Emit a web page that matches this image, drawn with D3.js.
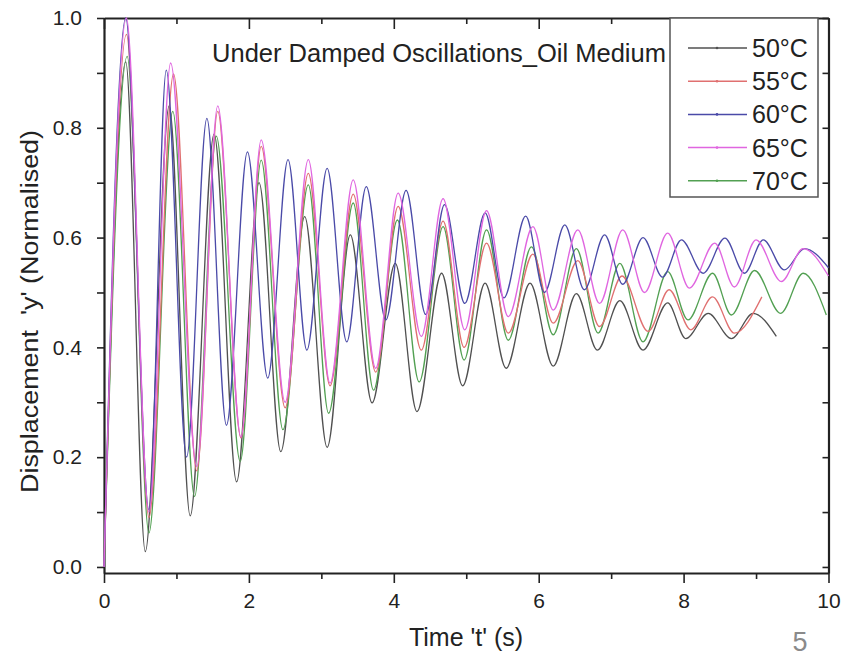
<!DOCTYPE html>
<html lang="en">
<head>
<meta charset="UTF-8">
<title>Under Damped Oscillations - Oil Medium</title>
<style>
    body { margin: 0; background: #fff; }
    text { font-family: "Liberation Sans", Arial, sans-serif; fill: #222; }
    .axis path, .axis line { stroke: #222; }
    .series { fill: none; stroke-width: 1.3px; stroke-linejoin: round; }
</style>
<script src="https://d3js.org/d3.v7.min.js"></script>
</head>
<body>
<svg></svg>
<script>
    // peaks / troughs, [time (s), displacement]
    const series50 = [[0,0],[0.3,0.92],[0.57,0.028],[0.9,0.84],[1.19,0.093],[1.52,0.789],[1.83,0.155],[2.14,0.70],[2.44,0.21],[2.77,0.638],[3.08,0.218],[3.4,0.605],[3.7,0.299],[4.02,0.553],[4.32,0.283],[4.66,0.535],[4.95,0.33],[5.26,0.517],[5.55,0.362],[5.88,0.517],[6.2,0.366],[6.52,0.498],[6.81,0.395],[7.12,0.485],[7.44,0.395],[7.78,0.481],[8.03,0.416],[8.34,0.462],[8.66,0.416],[8.96,0.462],[9.28,0.42]];
    const series55 = [[0,0],[0.31,0.97],[0.62,0.09],[0.96,0.898],[1.28,0.175],[1.57,0.83],[1.89,0.235],[2.17,0.766],[2.5,0.29],[2.82,0.717],[3.12,0.33],[3.44,0.679],[3.75,0.355],[4.06,0.657],[4.38,0.395],[4.68,0.63],[4.97,0.40],[5.28,0.59],[5.58,0.426],[5.92,0.57],[6.2,0.444],[6.54,0.558],[6.84,0.438],[7.15,0.53],[7.51,0.429],[7.8,0.505],[8.1,0.432],[8.4,0.492],[8.7,0.426],[9.08,0.492]];
    const series60 = [[0,0],[0.3,1.0],[0.62,0.104],[0.86,0.905],[1.14,0.20],[1.42,0.817],[1.69,0.258],[1.98,0.756],[2.26,0.344],[2.54,0.742],[2.8,0.395],[3.08,0.726],[3.35,0.41],[3.62,0.693],[3.89,0.45],[4.17,0.686],[4.44,0.46],[4.7,0.66],[4.98,0.48],[5.26,0.645],[5.52,0.49],[5.82,0.639],[6.08,0.50],[6.36,0.623],[6.63,0.505],[6.91,0.605],[7.16,0.515],[7.44,0.60],[7.71,0.528],[7.97,0.596],[8.27,0.535],[8.57,0.599],[8.84,0.535],[9.1,0.596],[9.39,0.541],[9.67,0.58],[10,0.545]];
    const series65 = [[0,0],[0.31,1.0],[0.62,0.10],[0.92,0.918],[1.28,0.183],[1.57,0.84],[1.89,0.237],[2.17,0.778],[2.5,0.30],[2.82,0.742],[3.12,0.335],[3.44,0.705],[3.75,0.362],[4.06,0.681],[4.38,0.42],[4.68,0.671],[4.98,0.432],[5.28,0.649],[5.58,0.456],[5.92,0.62],[6.2,0.468],[6.54,0.614],[6.84,0.48],[7.16,0.614],[7.46,0.50],[7.78,0.608],[8.08,0.508],[8.43,0.59],[8.7,0.51],[9.0,0.596],[9.35,0.52],[9.65,0.58],[10,0.53]];
    const series70 = [[0,0],[0.32,0.93],[0.62,0.062],[0.95,0.83],[1.25,0.128],[1.55,0.785],[1.88,0.192],[2.17,0.741],[2.47,0.25],[2.82,0.696],[3.1,0.28],[3.44,0.663],[3.72,0.322],[4.05,0.632],[4.35,0.337],[4.68,0.62],[4.97,0.377],[5.28,0.614],[5.58,0.413],[5.9,0.583],[6.2,0.423],[6.52,0.58],[6.82,0.426],[7.12,0.553],[7.44,0.41],[7.78,0.538],[8.06,0.45],[8.4,0.535],[8.66,0.459],[8.98,0.54],[9.34,0.462],[9.65,0.535],[9.97,0.459]];

    const labels = ["50\u00B0C", "55\u00B0C", "60\u00B0C", "65\u00B0C", "70\u00B0C"];
    const colors = ["#505050", "#e07070", "#4a4aa8", "#e066e0", "#52a052"];
    const allSeries = [series50, series55, series60, series65, series70];
    const drawOrder = [0, 4, 1, 2, 3];

    const xTicks = d3.range(0, 11, 1);
    const yTicks = d3.range(0, 11, 1).map(d => d / 10);

    const width = 852, height = 657;
    const svg = d3.select("svg").attr("width", width).attr("height", height);

    const x = d3.scaleLinear().domain([0, 10]).range([104, 828.5]);
    const y = d3.scaleLinear().domain([-0.011, 1]).range([573, 18]);

    const isMajorX = d => d % 2 === 0;
    const isMajorY = d => Math.round(d * 10) % 2 === 0;

    // bottom axis
    const bottomAxis = svg.append("g").attr("class", "axis")
        .attr("transform", `translate(0,${y.range()[0]})`)
        .call(d3.axisBottom(x).tickValues(xTicks).tickSize(10).tickSizeOuter(0).tickPadding(10)
            .tickFormat(d => isMajorX(d) ? d : ""));
    bottomAxis.selectAll(".tick line").attr("y2", d => isMajorX(d) ? 10 : 6).attr("stroke-width", 1.6);
    bottomAxis.selectAll(".tick text").attr("font-size", 21).attr("fill", "#333");

    // top axis, ticks pointing inward
    const topAxis = svg.append("g").attr("class", "axis")
        .attr("transform", `translate(0,${y.range()[1]})`)
        .call(d3.axisTop(x).tickValues(xTicks).tickSize(-6).tickSizeOuter(0).tickFormat(""));
    topAxis.selectAll(".tick line").attr("y2", d => isMajorX(d) ? 11 : 6).attr("stroke-width", 1.6);

    // left axis
    const leftAxis = svg.append("g").attr("class", "axis")
        .attr("transform", `translate(${x.range()[0]},0)`)
        .call(d3.axisLeft(y).tickValues(yTicks).tickSize(7).tickSizeOuter(0).tickPadding(15)
            .tickFormat(d => isMajorY(d) ? d3.format(".1f")(d) : ""));
    leftAxis.selectAll(".tick line").attr("stroke-width", 1.6);
    leftAxis.selectAll(".tick text").attr("font-size", 21).attr("fill", "#333");

    // right axis, ticks pointing inward
    const rightAxis = svg.append("g").attr("class", "axis")
        .attr("transform", `translate(${x.range()[1]},0)`)
        .call(d3.axisRight(y).tickValues(yTicks).tickSize(-6).tickSizeOuter(0).tickFormat(""));
    rightAxis.selectAll(".tick line").attr("stroke-width", 1.6);

    svg.selectAll(".axis path.domain").attr("stroke-width", 2.2);

    // curves
    const line = d3.line()
        .x(d => x(d[0]))
        .y(d => y(d[1]))
        .curve(d3.curveMonotoneX);

    svg.append("g")
        .selectAll("path")
        .data(drawOrder)
        .enter().append("path")
        .attr("class", "series")
        .attr("stroke", i => colors[i])
        .attr("d", i => line(allSeries[i]));

    // title
    svg.append("text")
        .attr("x", 212).attr("y", 62)
        .attr("font-size", 26)
        .attr("textLength", 454)
        .attr("lengthAdjust", "spacingAndGlyphs")
        .text("Under Damped Oscillations_Oil Medium");

    // legend
    const legend = svg.append("g");
    legend.append("rect")
        .attr("x", 670).attr("y", 18).attr("width", 148).attr("height", 179)
        .attr("fill", "#fff").attr("stroke", "#555").attr("stroke-width", 1.5);
    const rows = legend.selectAll("g.row")
        .data(labels)
        .enter().append("g")
        .attr("class", "row")
        .attr("transform", (d, i) => `translate(0,${48 + i * 33.2})`);
    rows.append("line")
        .attr("x1", 688).attr("x2", 747)
        .attr("stroke", (d, i) => colors[i]).attr("stroke-width", 1.5);
    rows.append("circle")
        .attr("cx", 717).attr("r", 1.3)
        .attr("fill", (d, i) => colors[i]);
    rows.append("text")
        .attr("x", 752).attr("y", 9)
        .attr("font-size", 25)
        .text(d => d);

    // axis titles
    svg.append("text")
        .attr("x", 466).attr("y", 646)
        .attr("text-anchor", "middle")
        .attr("font-size", 25)
        .text("Time 't' (s)");

    svg.append("text")
        .attr("transform", "translate(37.5,311.5) rotate(-90)")
        .attr("text-anchor", "middle")
        .attr("font-size", 23.5)
        .attr("textLength", 363)
        .attr("lengthAdjust", "spacingAndGlyphs")
        .style("white-space", "pre")
        .text("Displacement  'y' (Normalised)");

    // slide page number
    svg.append("text")
        .attr("x", 800).attr("y", 651)
        .attr("text-anchor", "middle")
        .attr("font-size", 27)
        .style("fill", "#8a8a8a")
        .text("5");
</script>
</body>
</html>
